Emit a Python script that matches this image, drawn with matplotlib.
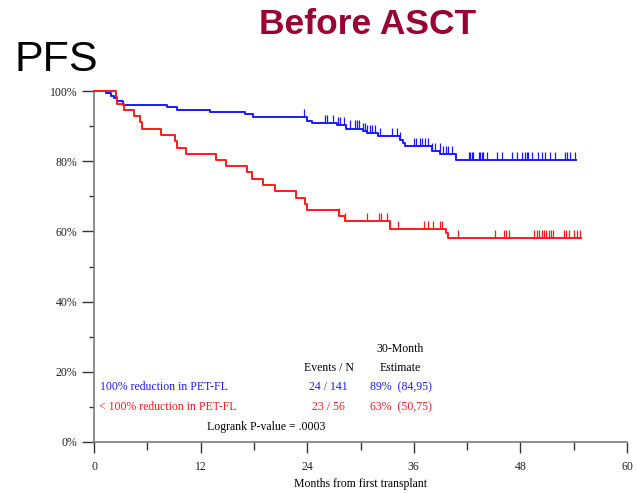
import numpy as np
import matplotlib
matplotlib.use("Agg")
import matplotlib.pyplot as plt

# Kaplan-Meier steps: time of each drop (months) and survival (%) after it
blue_times = [0, 1.4, 1.9, 2.2, 2.6, 3.3, 8.2, 9.3, 13.1, 17.0, 17.9, 24.0, 24.5,
              27.3, 28.4, 30.3, 30.7, 32.0, 34.5, 34.8, 35.0, 38.0, 39.0, 40.7]
blue_surv = [100, 99.3, 98.6, 97.9, 97.2, 96.0, 95.3, 94.6, 93.9, 93.4, 92.6, 91.5, 90.9,
             90.3, 89.3, 88.6, 88.0, 87.2, 85.9, 85.1, 84.2, 83.0, 82.1, 80.3]
blue_end = 54.3
blue_censor = [23.6, 26.0, 26.2, 26.9, 27.5, 27.7, 28.1, 28.8, 29.4, 29.6, 29.8, 30.3,
               30.5, 30.7, 31.1, 31.3, 31.6, 32.2, 33.5, 34.1, 34.5, 36.0, 36.3, 36.7,
               36.9, 37.3, 37.6, 38.1, 38.4, 38.9, 39.3, 39.6, 39.9, 40.3, 42.2, 42.3,
               42.5, 42.7, 43.3, 43.5, 43.7, 43.8, 44.2, 45.4, 45.9, 47.0, 47.6, 48.2,
               48.5, 48.7, 48.9, 49.3, 50.0, 50.4, 50.8, 51.3, 51.9, 53.0, 53.2, 53.6, 54.2]

red_times = [0, 2.5, 2.55, 3.4, 4.5, 5.2, 5.4, 7.5, 9.1, 9.3, 10.4, 13.7, 14.9, 17.2,
             17.8, 19.0, 20.4, 22.7, 23.8, 24.0, 27.6, 28.3, 33.3, 39.6, 39.8]
red_surv = [100, 98.2, 96.4, 94.6, 92.9, 91.1, 89.3, 87.5, 85.7, 83.9, 82.1, 80.4, 78.6,
            76.8, 75.0, 73.2, 71.4, 69.6, 67.9, 66.1, 64.5, 62.9, 60.7, 59.5, 58.2]
red_end = 54.8
red_censor = [27.6, 28.3, 30.7, 32.1, 32.3, 33.0, 34.2, 37.1, 37.6, 38.2, 39.0, 39.2,
              41.0, 45.1, 46.2, 46.4, 46.7, 49.5, 49.9, 50.1, 50.4, 50.7, 50.9, 51.2,
              51.4, 51.7, 52.9, 53.1, 53.5, 54.0, 54.4, 54.7]

groups = ["100% reduction in PET-FL", "< 100% reduction in PET-FL"]
events_n = ["24 / 141", "23 / 56"]
estimates = ["89%  (84,95)", "63%  (50,75)"]

BLUE = "#1a1aff"
RED = "#ff1a1a"
SERIF = "Liberation Serif"

fig = plt.figure(figsize=(6.36, 4.93), dpi=100)
ax = fig.add_axes([94 / 636, 1 - 442 / 493, 533 / 636, 351 / 493])


def km_curve(times, surv, end, censor, color):
    t = list(times) + [end]
    s = list(surv) + [surv[-1]]
    ax.step(t, s, where="post", color=color, lw=1.4, clip_on=False, zorder=3)
    idx = np.searchsorted(times, censor, side="right") - 1
    lvl = np.array(surv)[idx]
    ax.vlines(censor, lvl, lvl + 2.3, color=color, lw=0.9, zorder=3)


km_curve(blue_times, blue_surv, blue_end, blue_censor, BLUE)
km_curve(red_times, red_surv, red_end, red_censor, RED)

ax.set_xlim(0, 60)
ax.set_ylim(0, 100)
ax.set_xticks(np.arange(0, 61, 12))
ax.set_xticks(np.arange(6, 60, 12), minor=True)
ax.set_yticks(np.arange(0, 101, 20))
ax.set_yticks(np.arange(10, 100, 20), minor=True)
ax.set_yticklabels([f"{v}%" for v in range(0, 101, 20)])

for sp in ["top", "right"]:
    ax.spines[sp].set_visible(False)
for sp in ["left", "bottom"]:
    ax.spines[sp].set_color("#7a7a7a")
    ax.spines[sp].set_linewidth(1.2)

ax.tick_params(axis="y", which="major", length=8.6, width=1.0, color="#333333", pad=3.5)
ax.tick_params(axis="y", which="minor", length=3.6, width=1.0, color="#333333")
ax.tick_params(axis="x", which="major", length=8.0, width=1.0, color="#333333", pad=6)
ax.tick_params(axis="x", which="minor", length=5.8, width=1.0, color="#333333")
for lab in ax.get_xticklabels() + ax.get_yticklabels():
    lab.set_fontfamily(SERIF)
    lab.set_fontsize(8.5)
    lab.set_color("#222222")

# summary table inside the plot
fs = 8.5
ax.text(34.5, 26.5, "30-Month", ha="center", va="center", fontsize=fs, family=SERIF)
ax.text(34.5, 21.1, "Estimate", ha="center", va="center", fontsize=fs, family=SERIF)
ax.text(26.4, 21.1, "Events / N", ha="center", va="center", fontsize=fs, family=SERIF)
rows_y = [15.7, 10.0]
for i, (col, y) in enumerate(zip([BLUE, RED], rows_y)):
    x0 = 0.7 if i == 0 else 0.55
    ax.text(x0, y, groups[i], ha="left", va="center", fontsize=fs, family=SERIF, color=col)
    ax.text(26.4, y, events_n[i], ha="center", va="center", fontsize=fs, family=SERIF, color=col)
    ax.text(31.1, y, estimates[i], ha="left", va="center", fontsize=fs, family=SERIF, color=col)
ax.text(19.4, 4.3, "Logrank P-value = .0003", ha="center", va="center", fontsize=fs, family=SERIF)

fig.text(361 / 636, 1 - 484 / 493, "Months from first transplant", ha="center", va="center",
         fontsize=fs, family=SERIF)

fig.text(15 / 636, 1 - 71 / 493, "PFS", ha="left", va="baseline", fontsize=31,
         family="Liberation Sans")
fig.text(368 / 636, 1 - 34 / 493, "Before ASCT", ha="center", va="baseline", fontsize=25.5,
         family="Liberation Sans", fontweight="bold", color="#990033")

fig.savefig("out.png", dpi=100)
